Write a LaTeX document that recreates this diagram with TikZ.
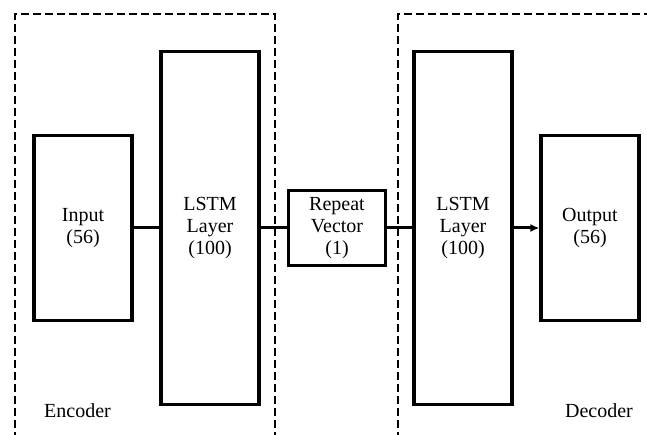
\documentclass[tikz,border=0pt]{standalone}
\usepackage{fontspec}
\setmainfont{Liberation Serif}
\usetikzlibrary{arrows.meta}
\begin{document}
\begin{tikzpicture}[x=1pt,y=-1pt,
  blk/.style={draw,line width=3.2pt,minimum width=98pt,align=center,font=\fontsize{20}{22}\selectfont,inner sep=0pt},
  grp/.style={line width=2.6pt,dash pattern=on 8pt off 4pt},
  conn/.style={line width=3pt},
  lbl/.style={font=\fontsize{20}{22}\selectfont,inner sep=0pt}]
\useasboundingbox (0,0) rectangle (647,435);
\fill[white] (0,0) rectangle (647,435);
\draw[grp] (15,440) -- (15,14) -- (275,14) -- (275,440);
\draw[grp] (398,440) -- (398,14) -- (650,14);
\node[blk,minimum height=185pt] (in) at (83,228) {Input\\(56)};
\node[blk,minimum height=353pt] (l1) at (210,228) {LSTM\\Layer\\(100)};
\node[blk,minimum width=97pt,minimum height=75pt] (rv) at (337,228) {Repeat\\Vector\\(1)};
\node[blk,minimum height=353pt] (l2) at (463,228) {LSTM\\Layer\\(100)};
\node[blk,minimum height=185pt] (out) at (590,228) {Output\\(56)};
\draw[conn] (in) -- (l1);
\draw[conn] (l1) -- (rv);
\draw[conn] (rv) -- (l2);
\draw[conn,-{Latex[length=9pt,width=8pt]}] (l2) -- (out);
\node[lbl,anchor=west] (enc) at (44,411) {Encoder};
\node[lbl,anchor=east] (dec) at (633,411) {Decoder};
\end{tikzpicture}
\end{document}
